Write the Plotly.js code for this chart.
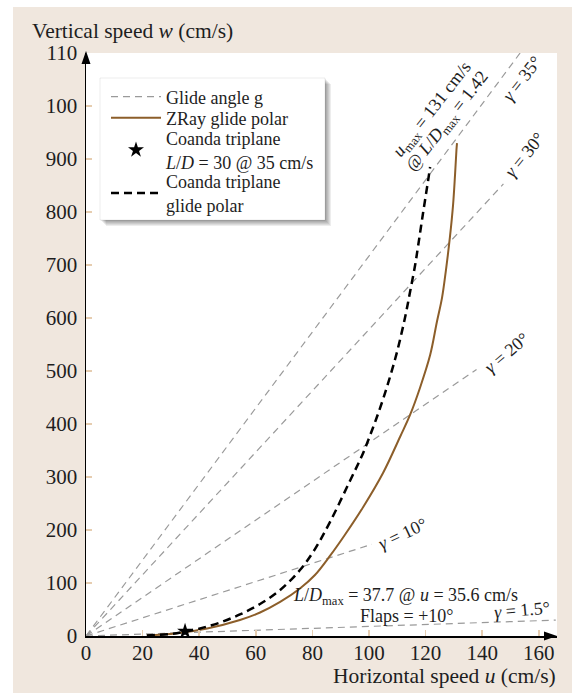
<!DOCTYPE html>
<html><head><meta charset="utf-8">
<script src="https://cdn.plot.ly/plotly-3.0.1.min.js"></script>
<style>html,body{margin:0;padding:0;background:#fff}#chart{width:572px;height:695px}</style>
</head><body><div id="chart"></div>
<script>
// ---- data ----
const gammaLabels = ['1.5°', '10°', '20°', '30°', '35°'];
const gammaEndU = [166, 101, 138, 147.5, 153.4];
const gammaEndW = [3.0, 17.3, 50.3, 85.3, 110];

const zrayU = [21.5, 31.5, 42.8, 54.4, 61.5, 68.6, 75.6, 80.9, 86.2, 91.5, 97.9, 105.0, 111.0, 114.5, 118.0, 121.6, 124.0, 125.8, 127.2, 128.6, 129.7, 130.4, 130.9, 131.1];
const zrayW = [0.13, 0.47, 1.42, 3.02, 4.43, 6.42, 8.96, 11.5, 15.1, 19.1, 24.3, 30.8, 37.6, 41.7, 46.8, 53.0, 59.3, 63.8, 69.1, 75.3, 81.3, 87.0, 91.7, 93.0];

const coandaU = [21.5, 29.7, 34.3, 40.3, 47.4, 54.4, 61.5, 68.6, 75.6, 80.9, 86.2, 93.3, 97.9, 101.4, 103.9, 106.7, 109.9, 112.7, 114.5, 116.3, 117.3, 119.1, 120.9, 121.6];
const coandaW = [0.09, 0.38, 0.75, 1.42, 2.55, 4.06, 6.04, 8.68, 12.45, 16.4, 21.5, 29.3, 34.5, 39.3, 43.0, 47.6, 53.6, 60.0, 64.9, 70.0, 73.4, 79.8, 86.0, 88.5];

const starU = [35];
const starW = [0.9];

const xTickVals = [0, 20, 40, 60, 80, 100, 120, 140, 160];
const xTickText = ['0', '20', '40', '60', '80', '100', '120', '140', '160'];
const yTickVals = [0, 10, 20, 30, 40, 50, 60, 70, 80, 90, 100, 110];
const yTickText = ['0', '100', '200', '300', '400', '500', '600', '700', '800', '900', '100', '110'];

// ---- layout helpers (pixel -> paper) ----
const W = 572, H = 695, ML = 86, MR = 15, MT = 53, MB = 59;
const PW = W - ML - MR, PH = H - MT - MB;
const px = v => (v - ML) / PW;
const py = v => (H - MB - v) / PH;

const FONT = 'Liberation Serif, Times New Roman, serif';
const BEIGE = '#f0e7de';
const TICKC = '#e6cdb0';
const TXT = '#1e1e1e';

// glide lines as one trace separated by nulls
const gU = [], gW = [];
gammaEndU.forEach((u, i) => { gU.push(0, u, null); gW.push(0, gammaEndW[i], null); });

const traces = [
  {x: gU, y: gW, mode: 'lines', name: 'Glide angle g', legend: 'legend',
   line: {color: '#9a9a9a', width: 1.2, dash: '7px,5px'}, hoverinfo: 'skip'},
  {x: zrayU, y: zrayW, mode: 'lines', name: 'ZRay glide polar', legend: 'legend2',
   line: {color: '#8c5e2a', width: 2, shape: 'spline', smoothing: 1, simplify: false}},
  {x: coandaU, y: coandaW, mode: 'lines', name: 'Coanda triplane<br>glide polar', legend: 'legend4',
   line: {color: '#000', width: 2.5, dash: '8px,5px', shape: 'spline', smoothing: 1, simplify: false}},
  {x: starU, y: starW, mode: 'markers', name: 'Coanda triplane<br><i>L</i>/<i>D</i> = 30 @ 35 cm/s', legend: 'legend3',
   marker: {symbol: 'star', size: 12, color: '#000', line: {width: 0}}}
];

const shapes = [
  {type: 'rect', xref: 'paper', yref: 'paper', x0: px(13), x1: px(572), y0: py(693), y1: py(7),
   fillcolor: BEIGE, line: {width: 0}, layer: 'below'},
  {type: 'rect', xref: 'paper', yref: 'paper', x0: 0, x1: 1, y0: 0, y1: 1,
   fillcolor: '#fff', line: {width: 0}, layer: 'below'}
];
// legend shadow + box
for (let k = 1; k <= 6; k++) {
  shapes.push({type: 'rect', xref: 'paper', yref: 'paper', x0: px(100 + k), x1: px(325 + k),
    y0: py(220 + k), y1: py(78 + k), fillcolor: 'rgba(0,0,0,0.07)', line: {width: 0}, layer: 'above'});
}
shapes.push({type: 'rect', xref: 'paper', yref: 'paper', x0: px(100), x1: px(325), y0: py(220), y1: py(78),
  fillcolor: '#fff', line: {width: 0.6, color: 'rgba(0,0,0,0.12)'}, layer: 'above'});
// axis arrows
shapes.push({type: 'path', xref: 'paper', yref: 'paper', fillcolor: '#000', line: {width: 0},
  path: `M ${px(86)} ${py(51)} L ${px(81.5)} ${py(64)} L ${px(90.5)} ${py(64)} Z`, layer: 'above'});
shapes.push({type: 'path', xref: 'paper', yref: 'paper', fillcolor: '#000', line: {width: 0},
  path: `M ${px(557)} ${py(636)} L ${px(544)} ${py(631.5)} L ${px(544)} ${py(640.5)} Z`, layer: 'above'});

const annFont = {family: FONT, size: 18, color: TXT};
const ann = (x, y, text, angle) => ({x, y, xref: 'x', yref: 'y', text, showarrow: false,
  textangle: angle, font: annFont, xanchor: 'center', yanchor: 'middle'});
const X = v => (v - ML) / 2.83;
const Y = v => (H - MB - v) / 5.3;

const annotations = [
  {xref: 'paper', yref: 'paper', x: px(30), y: py(31), xanchor: 'left', yanchor: 'middle', showarrow: false,
   text: 'Vertical speed <i>w</i> (cm/s)', font: {family: FONT, size: 21.5, color: TXT}},
  {xref: 'paper', yref: 'paper', x: px(558), y: py(676), xanchor: 'right', yanchor: 'middle', showarrow: false,
   text: 'Horizontal speed <i>u</i> (cm/s)', font: {family: FONT, size: 21.5, color: TXT}},
  ann(X(432), Y(110), '<i>u</i><sub>max</sub> = 131 cm/s', -52),
  ann(X(447), Y(122), '@ <i>L</i>/<i>D</i><sub>max</sub> = 1.42', -52),
  ann(X(521.5), Y(78.5), '<i>γ</i> = ' + gammaLabels[4], -52),
  ann(X(524.5), Y(155), '<i>γ</i> = ' + gammaLabels[3], -51),
  ann(X(506.5), Y(353), '<i>γ</i> = ' + gammaLabels[2], -40),
  ann(X(402), Y(534), '<i>γ</i> = ' + gammaLabels[1], -25),
  ann(X(521.5), Y(610), '<i>γ</i> = ' + gammaLabels[0], -5),
  ann(X(405.5), Y(596), '<i>L</i>/<i>D</i><sub>max</sub> = 37.7 @ <i>u</i> = 35.6 cm/s', 0),
  ann(X(406.5), Y(616), 'Flaps = +10°', 0)
];

const legBase = c => ({x: px(106), y: py(c), xanchor: 'left', yanchor: 'middle', bgcolor: 'rgba(0,0,0,0)',
  borderwidth: 0, font: {family: FONT, size: 18, color: TXT}, itemwidth: 50});

const layout = {
  width: W, height: H,
  margin: {l: ML, r: MR, t: MT, b: MB, pad: 0},
  paper_bgcolor: '#fff', plot_bgcolor: '#fff',
  font: {family: FONT, size: 21, color: TXT},
  showlegend: true,
  legend: legBase(97), legend2: legBase(118), legend3: legBase(150), legend4: legBase(193),
  xaxis: {range: [0, PW / 2.83], tickvals: xTickVals, ticktext: xTickText, ticks: 'inside', ticklen: 6,
    tickcolor: TICKC, tickwidth: 1.5, showgrid: false, zeroline: false, showline: true, linecolor: '#000',
    linewidth: 1.5, tickfont: {family: FONT, size: 21, color: TXT}, ticklabelstandoff: -3, fixedrange: true},
  yaxis: {range: [0, 110], tickvals: yTickVals, ticktext: yTickText, ticks: 'inside', ticklen: 6,
    tickcolor: TICKC, tickwidth: 1.5, showgrid: false, zeroline: false, showline: true, linecolor: '#000',
    linewidth: 1.5, tickfont: {family: FONT, size: 21, color: TXT}, ticklabelstandoff: 3, fixedrange: true},
  shapes, annotations
};

Plotly.newPlot('chart', traces, layout, {displayModeBar: false, staticPlot: true});
</script>
</body></html>
